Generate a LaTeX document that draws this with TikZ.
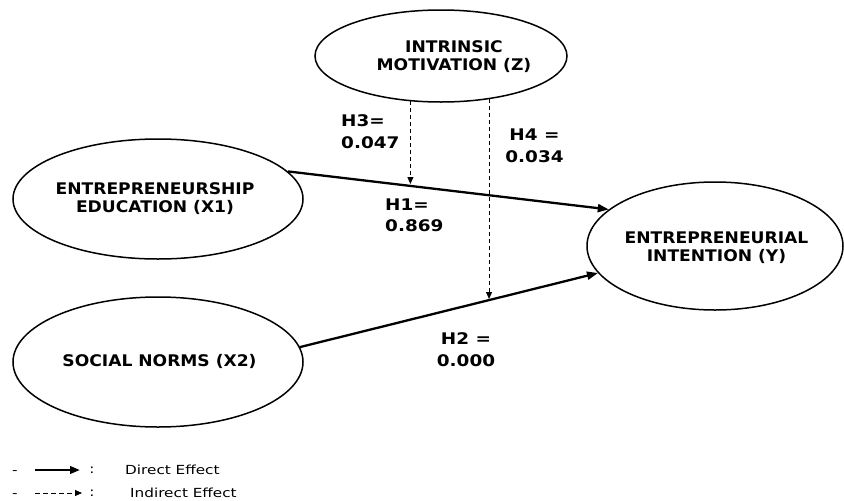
\documentclass[tikz,border=0pt]{standalone}
\usepackage{fontspec}
\setmainfont{DejaVu Sans}
\newfontfamily\labfont{DejaVu Sans}[FakeStretch=1.07]
\newfontfamily\hypfont{DejaVu Sans}[FakeStretch=1.15]
\newfontfamily\legfont{DejaVu Sans}[FakeStretch=1.22]
\usetikzlibrary{shapes.geometric,arrows.meta}
\tikzset{
  latent/.style={draw, ellipse, line width=1.5pt, inner sep=0pt},
  lab/.style={font=\labfont\bfseries\fontsize{16}{17.5}\selectfont, align=center, inner sep=0pt},
  hyp/.style={font=\hypfont\bfseries\fontsize{16}{21.5}\selectfont, inner sep=0pt},
  legtext/.style={font=\legfont\fontsize{12.5}{14}\selectfont, inner sep=0pt},
  direct/.style={line width=2.3pt, -{Triangle[length=11pt,width=8pt]}},
  indirect/.style={line width=0.9pt, dash pattern=on 4pt off 3pt, -{Triangle[length=7pt,width=6pt]}},
}
\begin{document}
\begin{tikzpicture}[x=1pt,y=-1pt]
\useasboundingbox (0,0) rectangle (844,501);
% latent variables
\node[latent, minimum width=252pt, minimum height=92pt] (Z) at (441,56) {};
\node[latent, minimum width=290pt, minimum height=120pt] (X1) at (158,199) {};
\node[latent, minimum width=290pt, minimum height=130pt] (X2) at (158,362) {};
\node[latent, minimum width=256pt, minimum height=128pt] (Y) at (715,246) {};
% labels
\node[lab] (Zt) at (454,56.5) {INTRINSIC\\MOTIVATION (Z)};
\node[lab] (X1t) at (155,198.5) {ENTREPRENEURSHIP\\EDUCATION (X1)};
\node[lab] (X2t) at (159.5,361.5) {SOCIAL NORMS (X2)};
\node[lab] (Yt) at (716.5,247.5) {ENTREPRENEURIAL\\INTENTION (Y)};
% direct paths
\draw[direct] (X1.12) -- (Y.161);
\draw[direct] (X2.6) -- (Y.193);
% indirect paths
\coordinate (h3tip) at (411,184);
\coordinate (h4tip) at (488,299);
\draw[indirect] (Z.236) -- (Z.236 |- h3tip);
\draw[indirect] (Z.318) -- (Z.318 |- h4tip);
% hypothesis labels
\node[hyp, anchor=north west, align=left] (H3) at (341,114.5) {H3=\\0.047};
\node[hyp, anchor=north, align=center] (H4) at (534.5,129) {H4 =\\0.034};
\node[hyp, anchor=north west, align=left] (H1) at (385,198.5) {H1=\\0.869};
\node[hyp, anchor=north, align=center] (H2) at (466,332.5) {H2 =\\0.000};
% legend
\node[legtext, anchor=base] (m1) at (15,474) {-};
\node[legtext, anchor=base] (m2) at (15,497) {-};
\coordinate (ls1) at (35,470);
\coordinate (le1) at (80,470);
\coordinate (ls2) at (35,493);
\coordinate (le2) at (82,493);
\draw[direct, line width=2.6pt, -{Triangle[length=10pt,width=7.5pt]}] (ls1) -- (le1);
\draw[indirect, dash pattern=on 5pt off 3pt] (ls2) -- (le2);
\node[legtext] (c1) at (92,470) {:};
\node[legtext] (c2) at (92,493) {:};
\node[legtext, anchor=west] (t1) at (125,470) {Direct Effect};
\node[legtext, anchor=west] (t2) at (130,493) {Indirect Effect};
\end{tikzpicture}
\end{document}
